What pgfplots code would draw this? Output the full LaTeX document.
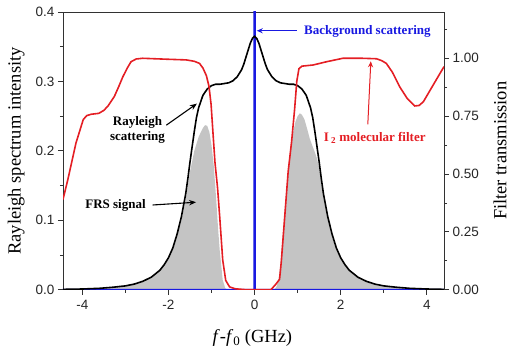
\documentclass[border=0pt]{standalone}
\usepackage{fontspec}
\setmainfont{Liberation Serif}
\setsansfont{Liberation Sans}
\usepackage{pgfplots}
\pgfplotsset{compat=1.18}
\usetikzlibrary{arrows.meta}
\definecolor{cred}{RGB}{228,30,36}
\definecolor{cblue}{RGB}{25,25,225}
\definecolor{cgray}{RGB}{196,196,196}
\definecolor{axc}{RGB}{50,50,50}
\begin{document}
\begin{tikzpicture}
\pgfplotsset{
  common/.style={
    width=381pt, height=277.7pt, scale only axis,
    xmin=-4.45, xmax=4.4,
    tick align=outside,
    major tick length=5pt, minor tick length=3pt,
    every tick/.style={axc, line width=0.8pt},
    axis line style={axc, line width=0.9pt},
    tick label style={font=\sffamily\fontsize{13.5}{15}\selectfont, text=black!85},
    label style={font=\fontsize{18.5}{21}\selectfont},
  }
}
\begin{axis}[common,
  ymin=0, ymax=0.4,
  axis y line*=left,
  axis x line*=box,
  xtick pos=left,
  xtick={-4,-2,0,2,4}, xticklabels={-4,-2,0,2,4},
  minor xtick={-3,-1,1,3},
  xticklabel style={yshift=-2pt},
  ytick={0,0.1,0.2,0.3,0.4}, yticklabels={0.0,0.1,0.2,0.3,0.4},
  minor ytick={0.05,0.15,0.25,0.35},
  ylabel={Rayleigh spectrum intensity},
  ylabel style={at={(axis description cs:-0.123,0.5)}, anchor=center},
  xlabel={\textit{f}-\textit{f}\textsubscript{0} (GHz)},
  xlabel style={at={(axis description cs:0.497,-0.174)}, anchor=center},
]
% FRS signal (gray), left lobe
\addplot[fill=cgray, draw=none] coordinates {
(-4.45,0) (-4.45,0.0005) (-4.0,0.001) (-3.6,0.002) (-3.3,0.0035) (-3.0,0.0055) (-2.8,0.008) (-2.6,0.012) (-2.4,0.018) (-2.2,0.027) (-2.0,0.044) (-1.9,0.057) (-1.8,0.076) (-1.7,0.100) (-1.6,0.130) (-1.5,0.170) (-1.4,0.200) (-1.3,0.220) (-1.24,0.228) (-1.2,0.233) (-1.15,0.237) (-1.1,0.236) (-1.05,0.227) (-1.0,0.208) (-0.95,0.180) (-0.89,0.129) (-0.85,0.090) (-0.81,0.057) (-0.74,0.014) (-0.68,0.002) (-0.62,0)
} \closedcycle;
% FRS signal (gray), right lobe
\addplot[fill=cgray, draw=none] coordinates {
(0.45,0) (0.5,0.003) (0.55,0.012) (0.6,0.035) (0.65,0.075) (0.7,0.115) (0.75,0.150) (0.8,0.185) (0.85,0.210) (0.9,0.228) (0.95,0.242) (1.0,0.250) (1.05,0.254) (1.1,0.252) (1.16,0.245) (1.22,0.232) (1.28,0.218) (1.35,0.206) (1.4,0.198) (1.45,0.189) (1.5,0.175) (1.55,0.153) (1.6,0.132) (1.7,0.100) (1.8,0.076) (1.9,0.057) (2.0,0.044) (2.2,0.027) (2.4,0.018) (2.6,0.012) (2.8,0.008) (3.0,0.0055) (3.3,0.0035) (3.6,0.002) (4.0,0.001) (4.4,0.0005) (4.4,0)
} \closedcycle;
% background scattering (blue)
\addplot[cblue, line width=1.6pt, line join=round] coordinates {
(-4.45,0) (-0.012,0) (0,2.0) (0.012,0) (4.4,0)
};
% Rayleigh scattering (black)
\addplot[black, line width=1.6pt] coordinates {
(-4.45,0.0005) (-4.0,0.001) (-3.6,0.002) (-3.3,0.0035) (-3.0,0.0055) (-2.8,0.008) (-2.6,0.012) (-2.4,0.018) (-2.2,0.028) (-2.1,0.036) (-2.0,0.046) (-1.9,0.060) (-1.8,0.080) (-1.7,0.105) (-1.6,0.138) (-1.55,0.160) (-1.5,0.184) (-1.45,0.206) (-1.4,0.228) (-1.35,0.248) (-1.3,0.262) (-1.2,0.280) (-1.1,0.289) (-1.0,0.294) (-0.9,0.296) (-0.8,0.296) (-0.7,0.297) (-0.6,0.298) (-0.5,0.301) (-0.4,0.307) (-0.3,0.317) (-0.25,0.325) (-0.2,0.335) (-0.15,0.345) (-0.1,0.355) (-0.05,0.362) (0,0.365)
(0.05,0.362) (0.1,0.355) (0.15,0.345) (0.2,0.335) (0.25,0.325) (0.3,0.317) (0.4,0.307) (0.5,0.301) (0.6,0.298) (0.7,0.297) (0.8,0.296) (0.9,0.296) (1.0,0.294) (1.1,0.289) (1.2,0.280) (1.3,0.262) (1.35,0.248) (1.4,0.228) (1.45,0.206) (1.5,0.184) (1.55,0.160) (1.6,0.138) (1.7,0.105) (1.8,0.080) (1.9,0.060) (2.0,0.046) (2.1,0.036) (2.2,0.028) (2.4,0.018) (2.6,0.012) (2.8,0.008) (3.0,0.0055) (3.3,0.0035) (3.6,0.002) (4.0,0.001) (4.4,0.0005)
};
% annotations
\node[font=\bfseries\fontsize{13}{14}\selectfont, text=cblue] at (axis cs:2.62,0.372) {Background scattering};
\draw[cblue, line width=1pt, -{Stealth[length=6pt,width=5pt]}] (axis cs:0.98,0.373) -- (axis cs:0.05,0.373);
\node[font=\bfseries\fontsize{13}{14}\selectfont, text=cred] at (axis cs:2.79,0.219) {I\,\textsubscript{2} molecular filter};
\draw[cred, line width=1pt, -{Stealth[length=6pt,width=5pt]}] (axis cs:2.63,0.238) -- (axis cs:2.70,0.329);
\node[font=\bfseries\fontsize{13}{14.5}\selectfont, align=center] at (axis cs:-2.72,0.230) {Rayleigh\\scattering};
\draw[black, line width=1.1pt, -{Stealth[length=7pt,width=5.5pt]}] (axis cs:-2.05,0.237) -- (axis cs:-1.34,0.268);
\node[font=\bfseries\fontsize{13}{14}\selectfont] at (axis cs:-3.23,0.122) {FRS signal};
\draw[black, line width=1.1pt, -{Stealth[length=7pt,width=5.5pt]}] (axis cs:-2.37,0.122) -- (axis cs:-1.36,0.126);
\end{axis}
\begin{axis}[common,
  ymin=0, ymax=1.2,
  axis y line*=right,
  axis x line=none,
  ytick={0,0.25,0.5,0.75,1}, yticklabels={0.00,0.25,0.50,0.75,1.00},
  minor ytick={0.125,0.375,0.625,0.875,1.125},
  ylabel={Filter transmission},
  ylabel style={at={(axis description cs:1.147,0.5)}, anchor=center, rotate=0},
]
\addplot[cred, line width=1.6pt] coordinates {
(-4.45,0.39) (-4.34,0.474) (-4.15,0.633) (-3.98,0.735) (-3.90,0.752) (-3.80,0.758) (-3.62,0.762) (-3.50,0.775) (-3.40,0.795) (-3.26,0.834) (-3.15,0.88) (-3.06,0.92) (-2.95,0.96) (-2.87,0.985) (-2.75,0.997) (-2.6,1.0) (-2.05,0.996) (-1.59,0.993) (-1.40,0.987) (-1.28,0.978) (-1.20,0.958) (-1.12,0.925) (-1.06,0.88) (-1.01,0.80) (-0.96,0.66) (-0.92,0.55) (-0.86,0.44) (-0.81,0.315) (-0.74,0.128) (-0.67,0.04) (-0.58,0.012) (-0.45,0.004) (-0.2,0.0) (0.38,0.0) (0.5,0.025) (0.58,0.045) (0.62,0.12) (0.70,0.315) (0.78,0.51) (0.86,0.64) (0.93,0.78) (0.98,0.90) (1.03,0.955) (1.10,0.966) (1.36,0.971) (1.67,0.985) (2.05,1.0) (2.5,1.0) (2.83,0.998) (2.95,0.99) (3.06,0.978) (3.2,0.94) (3.37,0.877) (3.55,0.825) (3.72,0.794) (3.82,0.796) (3.92,0.812) (4.15,0.885) (4.4,0.964)
};
\end{axis}
\useasboundingbox (-63pt,-60.3pt) rectangle (450pt,289.7pt);
\end{tikzpicture}
\end{document}
